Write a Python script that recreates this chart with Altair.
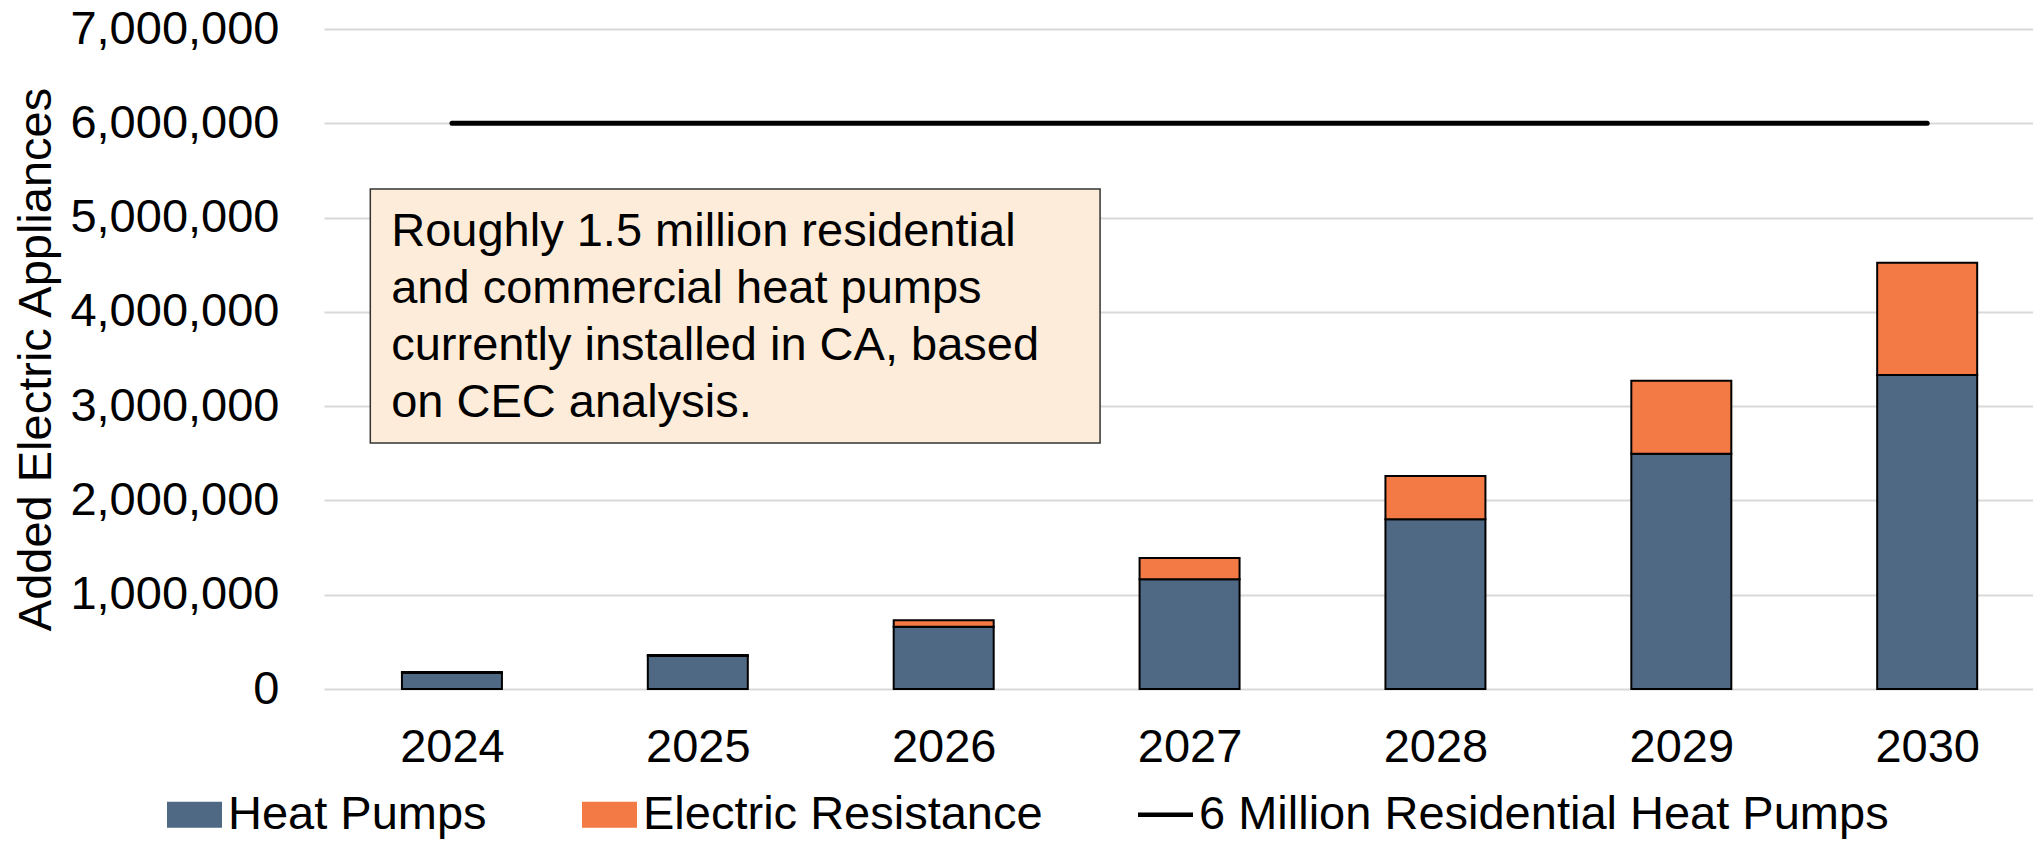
import altair as alt
import pandas as pd

years = [2024, 2025, 2026, 2027, 2028, 2029, 2030]
heat_pumps = [170000, 350000, 660000, 1165000, 1800000, 2495000, 3330000]
electric_resistance = [10000, 10000, 70000, 225000, 460000, 775000, 1190000]
target_years = [2024, 2030]
target_values = [6000000, 6000000]

series_names = ["Heat Pumps", "Electric Resistance", "6 Million Residential Heat Pumps"]
series_colors = ["#4F6883", "#F47A45", "#000000"]
RECT = "M-1,-0.45H1V0.45H-1Z"
DASH = "M-1,-0.05H1V0.05H-1Z"
series_shapes = [RECT, RECT, DASH]

note_text = "Roughly 1.5 million residential\nand commercial heat pumps\ncurrently installed in CA, based\non CEC analysis."
note_box = {"x": 2023.668, "x2": 2026.636, "y": 5303000, "y2": 2609000}
note_anchor = {"x": 2023.753, "y": 4702000}

FONT = "Liberation Sans"
FS = 47

rows = []
for i, yr in enumerate(years):
    rows.append({"year": yr, "series": series_names[0], "value": heat_pumps[i], "ord": 0})
    rows.append({"year": yr, "series": series_names[1], "value": electric_resistance[i], "ord": 1})
bars_df = pd.DataFrame(rows)
line_df = pd.DataFrame({"year": target_years, "value": target_values, "series": [series_names[2]] * 2})
legend_df = pd.DataFrame({"series": series_names, "year": [years[0]] * 3, "value": [0] * 3})
box_df = pd.DataFrame([note_box])
text_df = pd.DataFrame([{"x": note_anchor["x"], "y": note_anchor["y"], "t": note_text}])

xscale = alt.Scale(domain=[2023.5, 2030.41], nice=False, zero=False)
yscale = alt.Scale(domain=[0, 7000000], nice=False)
cscale = alt.Scale(domain=series_names, range=series_colors)
sscale = alt.Scale(domain=series_names, range=series_shapes)

legend = alt.Legend(
    title=None,
    orient="none",
    legendX=-157,
    legendY=758,
    direction="horizontal",
    columnPadding=92,
    labelFont=FONT,
    labelFontSize=FS,
    labelColor="black",
    labelOffset=6,
    labelLimit=0,
    symbolSize=2809,
    symbolStrokeColor="black",
    symbolStrokeWidth=2,
    symbolOpacity=1,
    padding=0,
)

x_axis = alt.Axis(
    values=years,
    format="d",
    title=None,
    grid=False,
    domain=False,
    ticks=False,
    labelFont=FONT,
    labelFontSize=FS,
    labelColor="black",
    labelPadding=35,
)
y_axis = alt.Axis(
    values=[0, 1000000, 2000000, 3000000, 4000000, 5000000, 6000000, 7000000],
    format=",d",
    title="Added Electric Appliances",
    titleFont=FONT,
    titleFontSize=FS,
    titleFontWeight="normal",
    titleColor="black",
    titleAngle=270,
    titleX=-274,
    titleY=330,
    titleAlign="center",
    titleBaseline="alphabetic",
    titleLimit=0,
    grid=True,
    gridColor="#D9D9D9",
    gridWidth=2,
    domain=False,
    ticks=False,
    labelFont=FONT,
    labelFontSize=FS,
    labelColor="black",
    labelPadding=45,
    labelLimit=0,
)

bars = alt.Chart(bars_df).mark_bar(size=100, stroke="black", strokeWidth=2).encode(
    x=alt.X("year:Q", scale=xscale, axis=x_axis),
    y=alt.Y("value:Q", scale=yscale, axis=y_axis, stack="zero"),
    color=alt.Color("series:N", scale=cscale, legend=legend),
    order=alt.Order("ord:Q", sort="ascending"),
)

line = alt.Chart(line_df).mark_line(strokeWidth=5, strokeCap="round").encode(
    x=alt.X("year:Q", scale=xscale),
    y=alt.Y("value:Q", scale=yscale),
    color=alt.Color("series:N", scale=cscale, legend=legend),
)

legend_layer = alt.Chart(legend_df).mark_point(
    filled=True, opacity=0, stroke="black", strokeWidth=2
).encode(
    x=alt.X("year:Q", scale=xscale),
    y=alt.Y("value:Q", scale=yscale),
    color=alt.Color("series:N", scale=cscale, legend=legend),
    shape=alt.Shape("series:N", scale=sscale, legend=legend),
)

box = alt.Chart(box_df).mark_rect(fill="#FDECD9", stroke="#333333", strokeWidth=1.5).encode(
    x=alt.X("x:Q", scale=xscale),
    x2="x2:Q",
    y=alt.Y("y:Q", scale=yscale),
    y2="y2:Q",
)

note = alt.Chart(text_df).mark_text(
    align="left",
    baseline="alphabetic",
    font=FONT,
    fontSize=FS,
    color="black",
    lineBreak="\n",
    lineHeight=57,
).encode(
    x=alt.X("x:Q", scale=xscale),
    y=alt.Y("y:Q", scale=yscale),
    text="t:N",
)

chart = alt.layer(bars, legend_layer, line, box, note).properties(
    width=1709,
    height=660,
    autosize=alt.AutoSizeParams(type="none"),
    padding={"left": 316, "top": 21, "right": 0, "bottom": 150},
    background="white",
).configure_view(stroke=None)

chart.save("out.html", embed_options={"renderer": "svg", "actions": False})
